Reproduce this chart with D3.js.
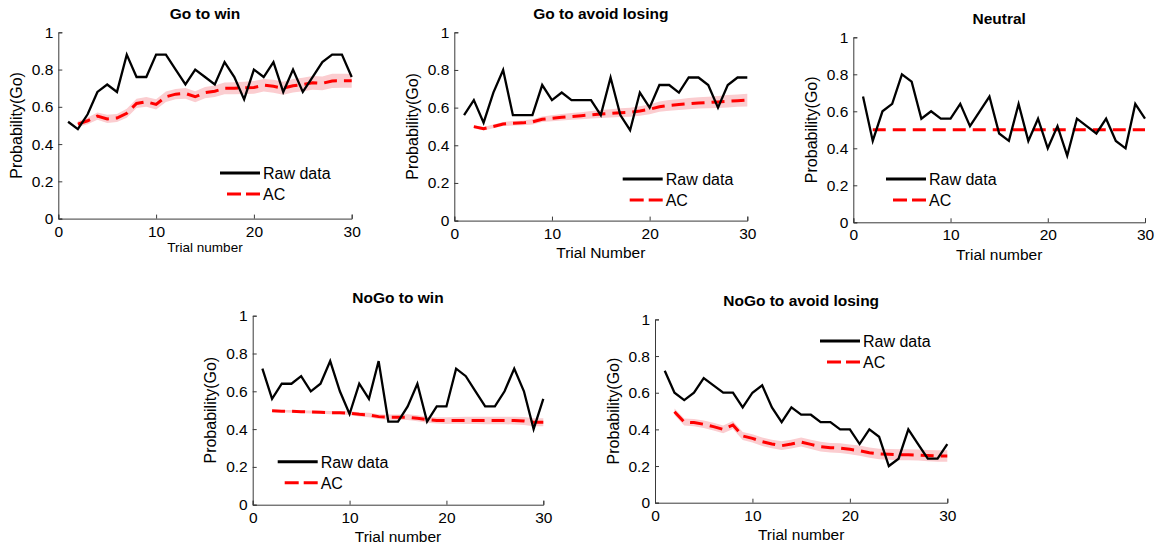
<!DOCTYPE html>
<html>
<head>
<meta charset="utf-8">
<script src="https://cdn.jsdelivr.net/npm/d3@7"></script>
<style>
  html, body { margin: 0; padding: 0; background: #fff; }
  svg { display: block; font-family: "Liberation Sans", Arial, sans-serif; }
</style>
</head>
<body>
<svg id="chart" width="1161" height="546"></svg>
<script>
// Trial index for raw data (1..30) and for model predictions (2..30)
const trials = d3.range(1, 31);
const acTrials = d3.range(2, 31);

const xTicks = [0, 10, 20, 30];
const yTicks = [0, 0.2, 0.4, 0.6, 0.8, 1];
const yTickLabels = ["0", "0.2", "0.4", "0.6", "0.8", "1"];

// Go to win
const goWinRaw = [0.52,0.48,0.56,0.68,0.72,0.68,0.88,0.76,0.76,0.88,0.88,0.80,0.72,0.80,0.76,0.72,0.84,0.76,0.64,0.80,0.76,0.84,0.68,0.80,0.68,0.76,0.84,0.88,0.88,0.76];
const goWinAC = [0.507,0.525,0.55,0.535,0.54,0.565,0.618,0.627,0.613,0.654,0.668,0.672,0.654,0.676,0.684,0.699,0.70,0.702,0.704,0.716,0.71,0.70,0.713,0.72,0.729,0.726,0.739,0.74,0.74];
const goWinSem = [0.015,0.018,0.02,0.022,0.022,0.024,0.025,0.026,0.027,0.028,0.028,0.029,0.03,0.03,0.031,0.032,0.032,0.033,0.034,0.034,0.035,0.035,0.036,0.036,0.037,0.037,0.038,0.038,0.038];

// Go to avoid losing
const goAvoidRaw = [0.56,0.64,0.52,0.68,0.80,0.56,0.56,0.56,0.72,0.64,0.68,0.64,0.64,0.64,0.56,0.76,0.56,0.48,0.68,0.60,0.72,0.72,0.68,0.76,0.76,0.72,0.60,0.72,0.76,0.76];
const goAvoidAC = [0.499,0.488,0.50,0.513,0.517,0.519,0.524,0.538,0.543,0.549,0.553,0.557,0.562,0.566,0.57,0.573,0.575,0.582,0.591,0.605,0.612,0.616,0.621,0.625,0.627,0.63,0.634,0.637,0.64];
const goAvoidSem = [0.008,0.009,0.01,0.011,0.012,0.013,0.014,0.015,0.016,0.017,0.018,0.019,0.02,0.021,0.022,0.023,0.024,0.025,0.026,0.027,0.028,0.029,0.03,0.03,0.031,0.032,0.033,0.033,0.034];

// Neutral
const neutralRaw = [0.68,0.44,0.60,0.64,0.80,0.76,0.56,0.60,0.56,0.56,0.64,0.52,0.60,0.68,0.48,0.44,0.64,0.44,0.56,0.40,0.52,0.36,0.56,0.52,0.48,0.56,0.44,0.40,0.64,0.56];
const neutralAC = [0.5,0.5,0.5,0.5,0.5,0.5,0.5,0.5,0.5,0.5,0.5,0.5,0.5,0.5,0.5,0.5,0.5,0.5,0.5,0.5,0.5,0.5,0.5,0.5,0.5,0.5,0.5,0.5,0.5];
const neutralSem = [0,0,0,0,0,0,0,0,0,0,0,0,0,0,0,0,0,0,0,0,0,0,0,0,0,0,0,0,0];

// NoGo to win
const noGoWinRaw = [0.72,0.56,0.64,0.64,0.68,0.60,0.64,0.76,0.60,0.48,0.64,0.56,0.76,0.44,0.44,0.52,0.64,0.44,0.52,0.52,0.72,0.68,0.60,0.52,0.52,0.60,0.72,0.60,0.40,0.56];
const noGoWinAC = [0.497,0.495,0.494,0.492,0.49,0.489,0.487,0.487,0.484,0.478,0.475,0.466,0.463,0.463,0.463,0.457,0.45,0.446,0.445,0.446,0.446,0.446,0.446,0.446,0.446,0.445,0.443,0.436,0.436];
const noGoWinSem = [0.006,0.006,0.007,0.007,0.008,0.008,0.009,0.009,0.01,0.011,0.012,0.013,0.014,0.014,0.015,0.016,0.016,0.017,0.018,0.018,0.019,0.019,0.02,0.02,0.02,0.021,0.021,0.021,0.021];

// NoGo to avoid losing
const noGoAvoidRaw = [0.72,0.60,0.56,0.60,0.68,0.64,0.60,0.60,0.52,0.60,0.64,0.52,0.44,0.52,0.48,0.48,0.44,0.44,0.40,0.40,0.32,0.40,0.36,0.20,0.24,0.40,0.32,0.24,0.24,0.32];
const noGoAvoidAC = [0.496,0.44,0.437,0.428,0.415,0.40,0.424,0.364,0.351,0.333,0.32,0.311,0.32,0.331,0.318,0.306,0.30,0.298,0.291,0.284,0.273,0.266,0.264,0.262,0.262,0.26,0.257,0.255,0.255];
const noGoAvoidSem = [0.018,0.019,0.02,0.02,0.021,0.021,0.022,0.022,0.023,0.023,0.023,0.024,0.024,0.025,0.025,0.026,0.026,0.027,0.027,0.028,0.028,0.029,0.029,0.03,0.03,0.03,0.031,0.031,0.031];

// Panel layout: plot box and legend placement
const panels = [
  { title: "Go to win", xLabel: "Trial number", xLabelSize: 13.5, raw: goWinRaw, ac: goWinAC, sem: goWinSem,
    box: { x0: 58.3, x1: 351.7, yTop: 32.3, yBot: 218.6 }, legend: { x: 220, y: 173 } },
  { title: "Go to avoid losing", xLabel: "Trial Number", xLabelSize: 15.5, raw: goAvoidRaw, ac: goAvoidAC, sem: goAvoidSem,
    box: { x0: 454.3, x1: 747.3, yTop: 32.3, yBot: 220.6 }, legend: { x: 622.7, y: 179 } },
  { title: "Neutral", xLabel: "Trial number", xLabelSize: 15.5, raw: neutralRaw, ac: neutralAC, sem: neutralSem,
    box: { x0: 853.3, x1: 1145, yTop: 37.3, yBot: 222.3 }, legend: { x: 886, y: 179 } },
  { title: "NoGo to win", xLabel: "Trial number", xLabelSize: 15.5, raw: noGoWinRaw, ac: noGoWinAC, sem: noGoWinSem,
    box: { x0: 252.7, x1: 543.3, yTop: 315.7, yBot: 504.7 }, legend: { x: 277.7, y: 461.7 } },
  { title: "NoGo to avoid losing", xLabel: "Trial number", xLabelSize: 15.5, raw: noGoAvoidRaw, ac: noGoAvoidAC, sem: noGoAvoidSem,
    box: { x0: 655, x1: 947.3, yTop: 319.4, yBot: 502.7 }, legend: { x: 820, y: 341 } }
];

const svg = d3.select("#chart");
const axisColor = "#3a3a3a";
const bandColor = "#fbcdd0";
const dash = "13,7";

panels.forEach(p => {
  const b = p.box;
  const x = d3.scaleLinear().domain([0, 30]).range([b.x0, b.x1]);
  const y = d3.scaleLinear().domain([0, 1]).range([b.yBot, b.yTop]);
  const g = svg.append("g");

  // uncertainty band around model prediction
  const bandData = acTrials.map((t, i) => ({ t, m: p.ac[i], s: p.sem[i] }));
  if (d3.max(p.sem) > 0) {
    g.append("path")
      .datum(bandData)
      .attr("fill", bandColor)
      .attr("d", d3.area().x(d => x(d.t)).y0(d => y(d.m - d.s)).y1(d => y(d.m + d.s)).curve(d3.curveLinear));
  }

  // model prediction
  g.append("path")
    .datum(bandData)
    .attr("fill", "none")
    .attr("stroke", "#ff0000")
    .attr("stroke-width", 3)
    .attr("stroke-dasharray", dash)
    .attr("d", d3.line().x(d => x(d.t)).y(d => y(d.m)));

  // observed choice probability
  g.append("path")
    .datum(trials.map((t, i) => ({ t, v: p.raw[i] })))
    .attr("fill", "none")
    .attr("stroke", "#000")
    .attr("stroke-width", 2.3)
    .attr("stroke-linejoin", "miter")
    .attr("d", d3.line().x(d => x(d.t)).y(d => y(d.v)));

  // axes (left and bottom, ticks pointing inward)
  const xAxis = d3.axisBottom(x).tickValues(xTicks).tickSize(-4).tickPadding(7).tickFormat(d3.format("d"));
  const yAxis = d3.axisLeft(y).tickValues(yTicks).tickSize(-4).tickPadding(6).tickFormat((d, i) => yTickLabels[i]);

  const gx = g.append("g").attr("transform", `translate(0,${b.yBot})`).call(xAxis);
  const gy = g.append("g").attr("transform", `translate(${b.x0},0)`).call(yAxis);
  [gx, gy].forEach(ax => {
    ax.select(".domain").attr("stroke", axisColor).attr("stroke-width", 1);
    ax.selectAll(".tick line").attr("stroke", axisColor);
    ax.selectAll(".tick text")
      .attr("fill", "#000")
      .style("font-family", "'Liberation Sans', Arial, sans-serif")
      .style("font-size", "15.5px");
  });
  gy.selectAll(".tick text").attr("x", -5);

  // title
  g.append("text")
    .attr("x", (b.x0 + b.x1) / 2)
    .attr("y", b.yTop - 13)
    .attr("text-anchor", "middle")
    .style("font-weight", "bold")
    .style("font-size", "15.5px")
    .text(p.title);

  // axis titles
  g.append("text")
    .attr("x", (b.x0 + b.x1) / 2)
    .attr("y", b.yBot + (p.xLabelSize < 15 ? 33 : 37.5))
    .attr("text-anchor", "middle")
    .style("font-size", p.xLabelSize + "px")
    .text(p.xLabel);

  g.append("text")
    .attr("transform", `translate(${b.x0 - 42},${(b.yTop + b.yBot) / 2}) rotate(-90)`)
    .attr("text-anchor", "middle")
    .attr("dy", "0.35em")
    .style("font-size", "16px")
    .text("Probability(Go)");

  // legend
  const L = p.legend;
  const lg = g.append("g");
  lg.append("line").attr("x1", L.x).attr("x2", L.x + 40).attr("y1", L.y).attr("y2", L.y)
    .attr("stroke", "#000").attr("stroke-width", 3);
  lg.append("line").attr("x1", L.x + 7).attr("x2", L.x + 40).attr("y1", L.y + 21).attr("y2", L.y + 21)
    .attr("stroke", "#ff0000").attr("stroke-width", 3).attr("stroke-dasharray", "14,5");
  lg.append("text").attr("x", L.x + 43).attr("y", L.y + 6).style("font-size", "16px").text("Raw data");
  lg.append("text").attr("x", L.x + 43).attr("y", L.y + 27).style("font-size", "16px").text("AC");
});
</script>
</body>
</html>
